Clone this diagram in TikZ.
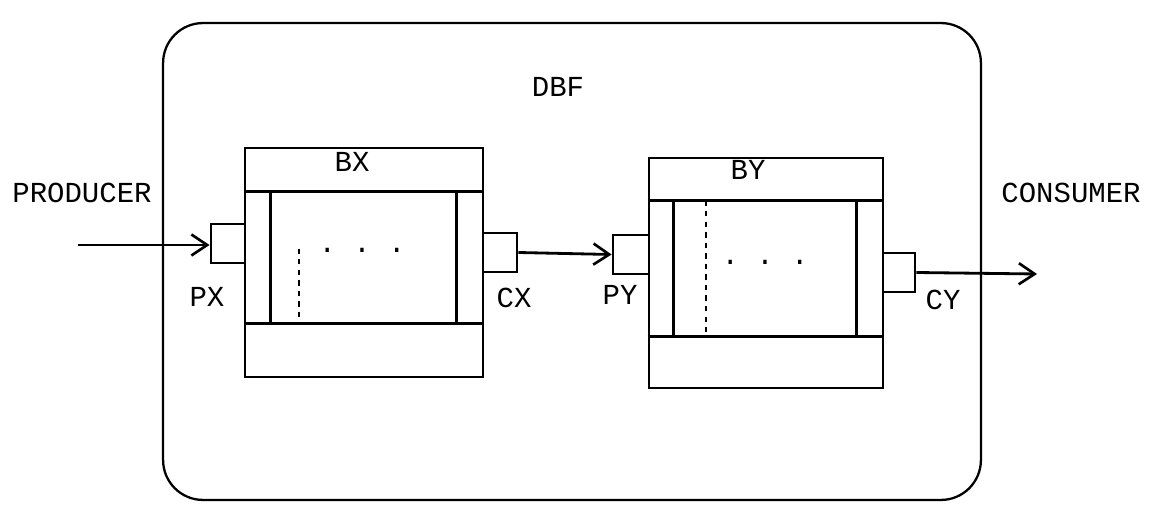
\documentclass[tikz,border=0pt]{standalone}
\usepackage{fontspec}
\setmonofont{Liberation Mono}
\usepackage{tikz}
\usetikzlibrary{positioning,arrows.meta,calc}
\tikzset{
  frame/.style={draw, line width=1.3pt, rounded corners=0.8cm, minimum width=16.36cm, minimum height=9.54cm, inner sep=0pt},
  bufbox/.style={draw, line width=1.6pt, minimum width=#1, inner sep=0pt},
  port/.style={draw, line width=1.6pt, minimum width=#1, minimum height=0.78cm, inner sep=0pt},
  port/.default={0.68cm},
  lbl/.style={font=\ttfamily\fontsize{16.5}{19}\selectfont, inner sep=0pt},
  flow/.style={-{Straight Barb[length=9pt, width=12pt, line width=1.5pt]}, line width=1.6pt}
}
\begin{document}
\begin{tikzpicture}[x=0.02cm, y=-0.02cm]
  \useasboundingbox (0,0) rectangle (1149,506);
  % outer frame
  \node[frame] (dbf) at (572,261.5) {};
  \node[lbl] (dbflbl) at (558,87) {DBF};
  % buffer BX
  \node[bufbox=4.76cm, minimum height=4.58cm] (bx) at (364,262.5) {};
  \draw[line width=1.6pt] ($(bx.north west)+(0,45)$) -- ($(bx.north east)+(0,45)$);
  \draw[line width=1.6pt] ($(bx.south west)+(0,-55)$) -- ($(bx.south east)+(0,-55)$);
  \draw[line width=1.4pt] ($(bx.north west)+(27,45)$) -- ($(bx.south west)+(27,-55)$);
  \draw[line width=1.1pt, dashed] ($(bx.north west)+(55,102)$) -- ($(bx.south west)+(55,-55)$);
  \draw[line width=1.4pt] ($(bx.north east)+(-28,45)$) -- ($(bx.south east)+(-28,-55)$);
  \node[lbl] (bxlbl) at (352,162) {BX};
  \node[lbl] (bxdots) at (362,250) {. . .};
  % buffer BY
  \node[bufbox=4.68cm, minimum height=4.6cm] (by) at (766,273) {};
  \draw[line width=1.6pt] ($(by.north west)+(0,44)$) -- ($(by.north east)+(0,44)$);
  \draw[line width=1.6pt] ($(by.south west)+(0,-53)$) -- ($(by.south east)+(0,-53)$);
  \draw[line width=1.4pt] ($(by.north west)+(26,44)$) -- ($(by.south west)+(26,-53)$);
  \draw[line width=1.1pt, dashed] ($(by.north west)+(58,44)$) -- ($(by.south west)+(58,-53)$);
  \draw[line width=1.4pt] ($(by.north east)+(-28,44)$) -- ($(by.south east)+(-28,-53)$);
  \node[lbl] (bylbl) at (748,170) {BY};
  \node[lbl] (bydots) at (765,262) {. . .};
  % ports
  \node[port] (px) at (228,243.5) {};
  \node[port] (cx) at (500,252.5) {};
  \node[port=0.72cm] (py) at (631,254.5) {};
  \node[port=0.64cm] (cy) at (899,272.5) {};
  \node[lbl] (pxlbl) at (207,297) {PX};
  \node[lbl] (cxlbl) at (514,298) {CX};
  \node[lbl] (pylbl) at (620,295) {PY};
  \node[lbl] (cylbl) at (943,300) {CY};
  % producer and consumer
  \node[lbl] (prod) at (82,193) {PRODUCER};
  \node[lbl] (cons) at (1071,193) {CONSUMER};
  \coordinate (prodin) at (78,245);
  \coordinate (consout) at (1037,274);
  \draw[flow] (prodin) -- (prodin -| px.west);
  \draw[flow] (cx.east) -- (py.west);
  \draw[flow] (cy.east) -- (consout);
\end{tikzpicture}
\end{document}
